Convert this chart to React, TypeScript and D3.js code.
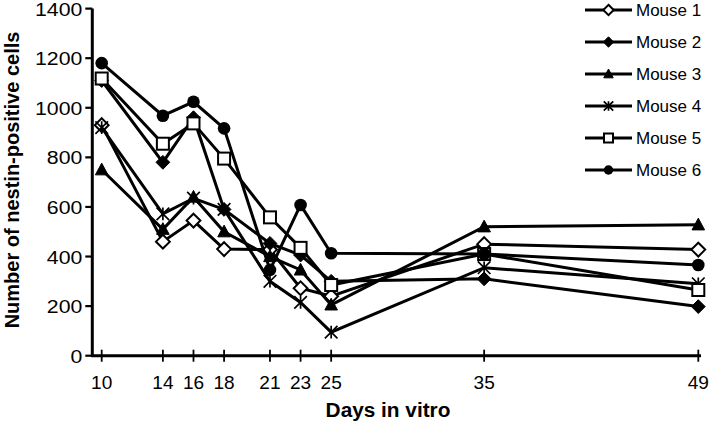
import React from "react";
import * as d3 from "d3";

const days = [10, 14, 16, 18, 21, 23, 25, 35, 49];
const seriesNames = ["Mouse 1", "Mouse 2", "Mouse 3", "Mouse 4", "Mouse 5", "Mouse 6"];
const mouse1 = [930, 460, 545, 430, 428, 272, 240, 450, 428];
const mouse2 = [1110, 780, 960, 590, 453, 406, 300, 310, 198];
const mouse3 = [750, 510, 640, 500, 400, 346, 205, 520, 528];
const mouse4 = [920, 572, 635, 590, 300, 215, 95, 355, 290];
const mouse5 = [1118, 855, 937, 795, 558, 435, 285, 410, 265];
const mouse6 = [1180, 968, 1024, 917, 346, 608, 413, 410, 366];
const markerTypes = ["diamondOpen", "diamond", "triangle", "star", "squareOpen", "circle"];
const yTicks = [0, 200, 400, 600, 800, 1000, 1200, 1400];
const xTicks = days;

const allSeries = [mouse1, mouse2, mouse3, mouse4, mouse5, mouse6];

const FONT = "'Liberation Sans', Arial, sans-serif";

function Marker({ type, x, y, s }: { type: string; x: number; y: number; s: number }) {
  const h = s / 2;
  const sw = 2;
  switch (type) {
    case "diamondOpen":
      return <path d={`M${x},${y - h * 1.15}L${x + h * 1.15},${y}L${x},${y + h * 1.15}L${x - h * 1.15},${y}Z`} fill="#fff" stroke="#000" strokeWidth={sw} />;
    case "diamond":
      return <path d={`M${x},${y - h * 1.15}L${x + h * 1.15},${y}L${x},${y + h * 1.15}L${x - h * 1.15},${y}Z`} fill="#000" stroke="#000" strokeWidth={1} />;
    case "triangle":
      return <path d={`M${x},${y - h * 1.1}L${x + h * 1.05},${y + h * 0.85}L${x - h * 1.05},${y + h * 0.85}Z`} fill="#000" stroke="#000" strokeWidth={1} />;
    case "star": {
      const r = h * 1.05;
      return (
        <path
          d={`M${x},${y - r}L${x},${y + r}M${x - r},${y - r}L${x + r},${y + r}M${x - r},${y + r}L${x + r},${y - r}`}
          fill="none"
          stroke="#000"
          strokeWidth={1.7}
        />
      );
    }
    case "squareOpen":
      return <rect x={x - h} y={y - h} width={s} height={s} fill="#fff" stroke="#000" strokeWidth={sw} />;
    case "circle":
      return <circle cx={x} cy={y} r={h * 1.05} fill="#000" />;
  }
  return null;
}

export default function App() {
  const W = 709;
  const H = 422;
  const x = d3.scaleLinear().domain([10, 49]).range([101.7, 698.3]);
  const y = d3.scaleLinear().domain([0, 1400]).range([355.7, 8.6]);
  const axisX = 92.3;
  const axisY = y(0);

  const line = d3
    .line<number>()
    .x((_, i) => x(days[i]))
    .y((d) => y(d));

  return (
    <svg width={W} height={H} style={{ position: "absolute", left: 0, top: 0, background: "#fff" }} fontFamily={FONT}>
      <rect width={W} height={H} fill="#fff" />
      {/* series */}
      {allSeries.map((vals, si) => (
        <g key={si}>
          <path d={line(vals) || ""} fill="none" stroke="#000" strokeWidth={3} strokeLinejoin="miter" />
          {vals.map((v, i) => (
            <Marker key={i} type={markerTypes[si]} x={x(days[i])} y={y(v)} s={12} />
          ))}
        </g>
      ))}
      {/* y axis */}
      <line x1={axisX} x2={axisX} y1={y(1400)} y2={axisY + 1} stroke="#000" strokeWidth={3} />
      {yTicks.map((t) => (
        <g key={t}>
          <line x1={axisX - 7} x2={axisX} y1={y(t)} y2={y(t)} stroke="#000" strokeWidth={2.2} />
          <text
            transform={`translate(${axisX - 10},${y(t) + 7}) scale(1.12,1)`}
            textAnchor="end"
            fontSize={19}
            fill="#000"
          >
            {t}
          </text>
        </g>
      ))}
      {/* x axis */}
      <line x1={axisX - 1} x2={701} y1={axisY} y2={axisY} stroke="#000" strokeWidth={3} />
      {xTicks.map((t) => (
        <g key={t}>
          <line x1={x(t)} x2={x(t)} y1={axisY - 6} y2={axisY + 6} stroke="#000" strokeWidth={1.8} />
          <text transform={`translate(${x(t)},389) scale(1.06,1)`} textAnchor="middle" fontSize={18} fill="#000">
            {t}
          </text>
        </g>
      ))}
      {/* axis titles */}
      <text transform="translate(388,417) scale(1.04,1)" textAnchor="middle" fontSize={20} fontWeight="bold" fill="#000">
        Days in vitro
      </text>
      <text transform={`translate(19,180) rotate(-90)`} textAnchor="middle" fontSize={20} fontWeight="bold" fill="#000">
        Number of nestin-positive cells
      </text>
      {/* legend */}
      {seriesNames.map((name, i) => {
        const ly = 10 + i * 32;
        return (
          <g key={name}>
            <line x1={585} x2={632} y1={ly} y2={ly} stroke="#000" strokeWidth={3} />
            <Marker type={markerTypes[i]} x={608.5} y={ly} s={9} />
            <text x={636} y={ly} dy="0.36em" fontSize={17} fill="#000">
              {name}
            </text>
          </g>
        );
      })}
    </svg>
  );
}
